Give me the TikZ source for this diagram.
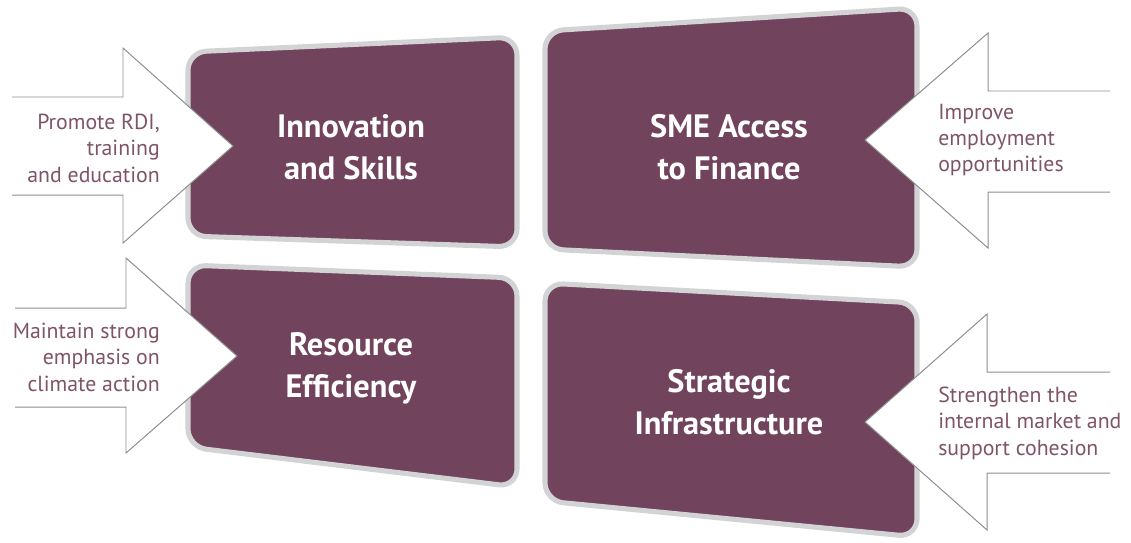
\documentclass[tikz,border=0pt]{standalone}
\usepackage{fontspec}
\setmainfont{PT Sans}

\definecolor{plum}{HTML}{72435C}
\definecolor{rimgray}{HTML}{D1D3D4}
\definecolor{arrowgray}{HTML}{8E8E8E}
\definecolor{labelplum}{HTML}{7F5469}

\begin{document}
\begin{tikzpicture}[x=0.025cm, y=-0.025cm,
  box/.style={fill=plum, draw=rimgray, line width=3.6pt, rounded corners=13pt},
  boxtext/.style={align=center, text=white, font=\bfseries\fontsize{23}{29.8}\selectfont},
  arrowfill/.style={fill=white},
  arrowline/.style={draw=arrowgray, line width=0.7pt},
  labeltext/.style={text=labelplum, font=\fontsize{15.5}{18.8}\selectfont, inner sep=0pt}]
% Fix the page size
\useasboundingbox (0,0) rectangle (1131,542);

% Draw the four boxes
\draw[box] (188,52) -- (517,37) -- (517,247) -- (188,236) -- cycle;
\node[boxtext] (innov) at (351,147) {Innovation\\and Skills};
\draw[box] (545,31) -- (917,8) -- (917,267) -- (545,249) -- cycle;
\node[boxtext] (sme) at (729,147) {SME Access\\to Finance};
\draw[box] (188,265) -- (517,278) -- (517,487) -- (188,447) -- cycle;
\node[boxtext] (resource) at (351,368) {Resource\\Efficiency};
\draw[box] (545,283) -- (917,303) -- (917,537) -- (545,501) -- cycle;
\node[boxtext] (infra) at (729,402) {Strategic\\Infrastructure};

% Draw the arrows on the left (open at the back)
\fill[arrowfill] (0,97) -- (123,97) -- (123,48) -- (233,146) -- (123,243) -- (123,195) -- (0,195) -- cycle;
\draw[arrowline] (12,97) -- (123,97) -- (123,48) -- (233,146) -- (123,243) -- (123,195) -- (12,195);
\node[labeltext, anchor=east, align=right] (rdi) at (160,148) {Promote RDI,\\training\\and education};
\fill[arrowfill] (0,308) -- (126,308) -- (126,258) -- (237,356) -- (126,453) -- (126,407) -- (0,407) -- cycle;
\draw[arrowline] (15,308) -- (126,308) -- (126,258) -- (237,356) -- (126,453) -- (126,407) -- (15,407);
\node[labeltext, anchor=east, align=right] (climate) at (160,357) {Maintain strong\\emphasis on\\climate action};

% Draw the arrows on the right
\fill[arrowfill] (1131,91) -- (988,91) -- (988,33) -- (865,140) -- (988,248) -- (988,192) -- (1131,192) -- cycle;
\draw[arrowline] (1110,91) -- (988,91) -- (988,33) -- (865,140) -- (988,248) -- (988,192) -- (1110,192);
\node[labeltext, anchor=west, align=left] (jobs) at (938,140) {Improve\\employment\\opportunities};
\fill[arrowfill] (1131,372) -- (987,372) -- (987,314) -- (865,422) -- (987,530) -- (987,473) -- (1131,473) -- cycle;
\draw[arrowline] (1110,372) -- (987,372) -- (987,314) -- (865,422) -- (987,530) -- (987,473) -- (1110,473);
\node[labeltext, anchor=west, align=left] (market) at (938,423) {Strengthen the\\internal market and\\support cohesion};
\end{tikzpicture}
\end{document}
